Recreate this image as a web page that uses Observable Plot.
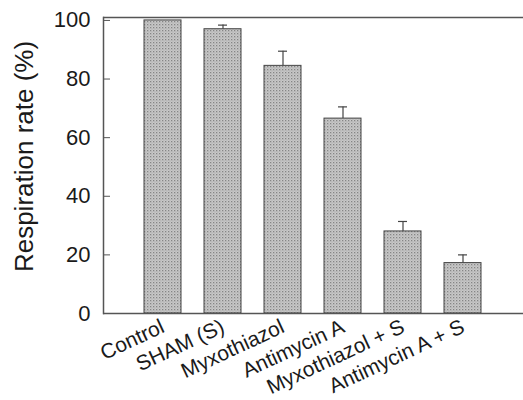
<!DOCTYPE html>
<html><head><meta charset="utf-8">
<script src="https://cdn.jsdelivr.net/npm/d3@7"></script>
<script src="https://cdn.jsdelivr.net/npm/@observablehq/plot@0.6"></script>
<style>
body{margin:0;background:#fff;}
svg{font-family:"Liberation Sans",Arial,sans-serif;}
</style></head><body>
<div id="chart"></div>
<script>
const categories = ["Control","SHAM (S)","Myxothiazol","Antimycin A","Myxothiazol + S","Antimycin A + S"];
const values = [100, 97, 84.5, 66.5, 28, 17.2];
const errors = [0, 1.4, 5, 4, 3.4, 2.8];
const yTicks = [0, 20, 40, 60, 80, 100];
const yLabel = "Respiration rate (%)";

const data = categories.map((c, i) => ({cat: c, v: values[i], e: errors[i]}));
const errData = data.filter(d => d.e > 0);

const axisColor = "#555";
const plot = Plot.plot({
  width: 523, height: 400,
  marginLeft: 103, marginRight: 0, marginTop: 17, marginBottom: 87,
  style: {fontFamily: '"Liberation Sans", Arial, sans-serif', color: "#1a1a1a", background: "#fff"},
  x: {domain: categories, paddingInner: 0.383, paddingOuter: 0.69},
  y: {domain: [0, 101]},
  marks: [
    Plot.barY(data, {x: "cat", y: "v", fill: "url(#dots)", stroke: "#444", strokeWidth: 1}),
    Plot.ruleX(errData, {x: "cat", y1: "v", y2: d => d.v + d.e, stroke: "#444", strokeWidth: 1.2}),
    Plot.tickY(errData, {x: "cat", y: d => d.v + d.e, stroke: "#444", strokeWidth: 1.2, insetLeft: 14, insetRight: 14}),
    Plot.axisY({ticks: yTicks, tickSize: -7, tickPadding: 20, fontSize: 22, stroke: axisColor, label: null}),
    Plot.text([yLabel], {frameAnchor: "left", textAnchor: "middle", lineAnchor: "middle", dx: -79, dy: -9, rotate: -90, fontSize: 26, fill: "#1a1a1a"}),
    Plot.axisX({tickSize: 0, tickRotate: -25, fontSize: 21, tickPadding: 12, label: null}),
    Plot.ruleY([0], {stroke: axisColor, strokeWidth: 1.5}),
    Plot.ruleY([101], {stroke: axisColor, strokeWidth: 1.5}),
    Plot.frame({anchor: "left", stroke: axisColor, strokeWidth: 1.5})
  ]
});
const ns = "http://www.w3.org/2000/svg";
const defs = document.createElementNS(ns, "defs");
defs.innerHTML = '<pattern id="dots" width="3" height="3" patternUnits="userSpaceOnUse"><rect width="3" height="3" fill="#c8c8c8"/><rect x="0" y="0" width="1.3" height="1.3" fill="#858585"/><rect x="1.5" y="1.5" width="1" height="1" fill="#a0a0a0"/></pattern>';
plot.insertBefore(defs, plot.firstChild);
document.getElementById("chart").appendChild(plot);
</script>
</body></html>
